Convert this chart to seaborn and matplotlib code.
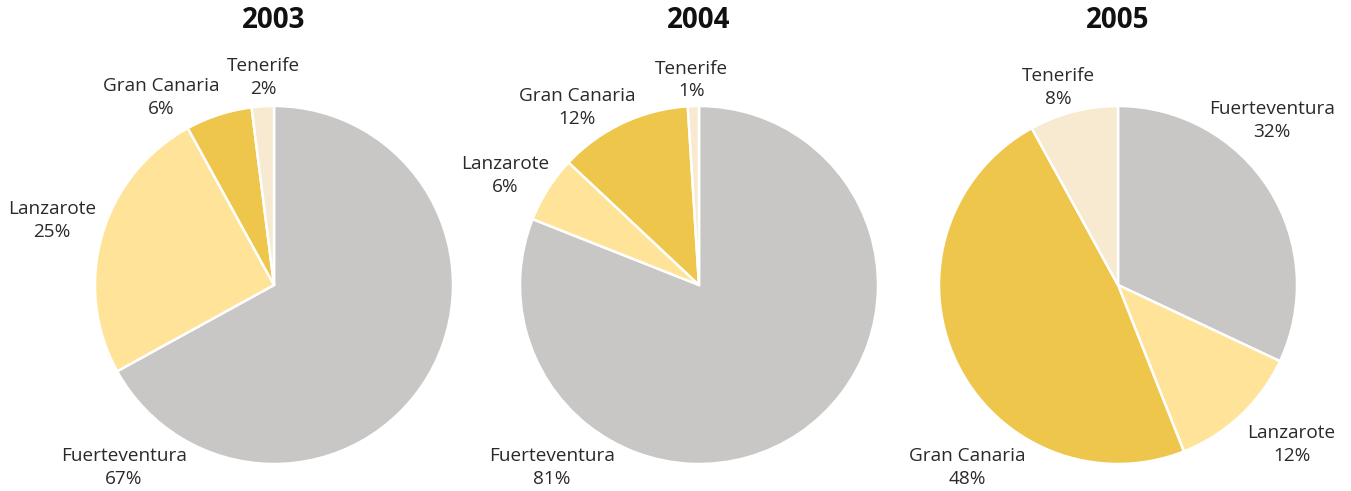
import matplotlib
matplotlib.use('Agg')
import matplotlib.pyplot as plt
import seaborn as sns

sns.set_theme(style='white')
plt.rcParams['font.family'] = ['Open Sans', 'DejaVu Sans']

years = ['2003', '2004', '2005']
islands = ['Fuerteventura', 'Lanzarote', 'Gran Canaria', 'Tenerife']
share_2003 = [67, 25, 6, 2]
share_2004 = [81, 6, 12, 1]
share_2005 = [32, 12, 48, 8]
shares = [share_2003, share_2004, share_2005]

colors = ['#c8c7c5', '#fee398', '#edc64b', '#f7ead0']

# label anchor spots, in pie radius units (hand placed like the original)
label_pos = [
    [(-0.84, -1.02), (-1.24, 0.36), (-0.63, 1.045), (-0.06, 1.16)],
    [(-0.82, -1.02), (-1.08, 0.61), (-0.68, 0.99), (-0.04, 1.145)],
    [(0.86, 0.92), (0.97, -0.89), (-0.84, -1.02), (-0.335, 1.105)],
]

W, H = 1351, 491
fig = plt.figure(figsize=(W / 100, H / 100), dpi=100)
centers = [274, 699, 1118]
cy = H - 285
r = 179

for i, year in enumerate(years):
    cx = centers[i]
    ax = fig.add_axes([(cx - r) / W, (cy - r) / H, 2 * r / W, 2 * r / H])
    ax.pie(shares[i], colors=colors, startangle=90, counterclock=False,
           radius=1, wedgeprops=dict(edgecolor='white', linewidth=1.8))
    ax.set_xlim(-1, 1)
    ax.set_ylim(-1, 1)
    ax.set_aspect('equal')
    for j, name in enumerate(islands):
        x, y = label_pos[i][j]
        ax.text(x, y, f'{name}\n{shares[i][j]}%', ha='center', va='center',
                fontsize=13.7, color='#2a2a2a', linespacing=1.35, clip_on=False)
    fig.text(cx / W, 1 - 21 / H, year, ha='center', va='center',
             fontsize=20, fontweight='bold', color='#111111')

fig.savefig('out.png', dpi=100)
